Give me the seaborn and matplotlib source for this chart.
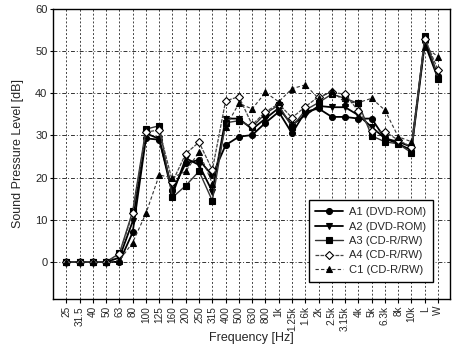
import numpy as np
import pandas as pd
import matplotlib
matplotlib.use("Agg")
import matplotlib.pyplot as plt
import seaborn as sns

freq_labels = ["25", "31.5", "40", "50", "63", "80", "100", "125", "160", "200",
               "250", "315", "400", "500", "630", "800", "1k", "1.25k", "1.6k",
               "2k", "2.5k", "3.15k", "4k", "5k", "6.3k", "8k", "10k", "L", "W"]

a1 = [0, 0, 0, 0, 0, 7.0, 29.3, 29.0, 17.0, 23.4, 24.2, 20.5, 27.7, 29.7, 30.1,
      33.0, 35.6, 30.5, 35.6, 36.4, 34.4, 34.4, 34.0, 34.0, 29.3, 28.5, 27.3, 52.5, 44.0]
a2 = [0, 0, 0, 0, 1.0, 9.6, 30.5, 29.2, 16.0, 24.6, 23.0, 16.7, 34.0, 34.0, 31.5,
      34.0, 36.5, 32.5, 34.8, 37.0, 36.7, 36.7, 34.8, 32.0, 29.3, 28.0, 26.5, 51.8, 43.5]
a3 = [0, 0, 0, 0, 2.0, 12.0, 31.5, 32.3, 15.3, 18.1, 21.5, 14.5, 33.0, 33.5, 32.0,
      35.2, 37.2, 32.0, 36.0, 37.8, 39.8, 38.8, 37.6, 29.9, 28.5, 28.0, 25.9, 53.6, 43.5]
a4 = [0, 0, 0, 0, 1.8, 11.5, 30.8, 31.3, 19.0, 25.7, 28.4, 21.8, 38.2, 39.2, 32.5,
      35.6, 37.5, 34.2, 36.8, 39.2, 40.2, 39.8, 35.8, 31.0, 30.9, 28.9, 27.3, 53.0, 45.5]
c1 = [0, 0, 0, 0, 0.3, 4.6, 11.5, 20.6, 20.0, 21.5, 26.1, 18.6, 32.0, 37.6, 36.3,
      40.2, 38.0, 41.1, 42.0, 38.8, 40.6, 37.8, 37.8, 38.8, 36.0, 29.7, 28.5, 51.0, 48.7]

series_names = ["A1 (DVD-ROM)", "A2 (DVD-ROM)", "A3 (CD-R/RW)", "A4 (CD-R/RW)", "C1 (CD-R/RW)"]
series_values = [a1, a2, a3, a4, c1]

styles = {
    "A1 (DVD-ROM)": dict(color="black", lw=1.3, ls="-", marker="o", mfc="black", ms=4.3),
    "A2 (DVD-ROM)": dict(color="black", lw=1.3, ls="-", marker="v", mfc="black", ms=4.8),
    "A3 (CD-R/RW)": dict(color="#333333", lw=1.0, ls="-", marker="s", mfc="black", ms=4.0),
    "A4 (CD-R/RW)": dict(color="#444444", lw=0.9, ls=(0, (3, 1)), marker="D", mfc="white", ms=3.8),
    "C1 (CD-R/RW)": dict(color="#333333", lw=0.8, ls=(0, (3, 2)), marker="^", mfc="black", ms=4.8),
}

sns.set_theme(style="white")
plt.rcParams["font.family"] = ["Liberation Sans", "DejaVu Sans"]

fig = plt.figure(figsize=(4.59, 3.49), dpi=100)
ax = fig.add_axes([53 / 459, 1 - 299 / 349, 397 / 459, 290 / 349])

x = np.arange(len(freq_labels))
for name, vals in zip(series_names, series_values):
    st = styles[name]
    df = pd.DataFrame({"x": x, "y": vals})
    sns.lineplot(data=df, x="x", y="y", ax=ax, color=st["color"], linewidth=st["lw"],
                 linestyle=st["ls"], marker=st["marker"], markersize=st["ms"],
                 markerfacecolor=st["mfc"], markeredgecolor="black", markeredgewidth=0.8,
                 label=name)

ax.set_xlim(-1, 28.9)
ax.set_ylim(-8.8, 60)
ax.set_xticks(x)
ax.set_xticklabels(freq_labels, rotation=90, fontsize=7.2)
ax.set_yticks([0, 10, 20, 30, 40, 50, 60])
ax.set_yticklabels(["0", "10", "20", "30", "40", "50", "60"], fontsize=8)
ax.tick_params(axis="x", direction="out", length=3, width=0.8, color="black", pad=2, bottom=True)
ax.tick_params(axis="y", direction="out", length=2, width=0.8, color="black", pad=2, left=True)

for xi in x:
    ax.axvline(xi, color="#444444", lw=0.7, ls=(0, (2, 2)), zorder=0)
for yv in [0, 10, 20, 30, 40, 50]:
    ax.axhline(yv, color="#333333", lw=0.7, ls=(0, (4, 2, 1, 2)), zorder=0)

for sp in ax.spines.values():
    sp.set_color("black")
    sp.set_linewidth(1.0)

ax.set_xlabel("Frequency [Hz]", fontsize=9)
ax.xaxis.set_label_coords(0.5, -0.115)
ax.set_ylabel("Sound Pressure Level [dB]", fontsize=9, labelpad=8)

leg = ax.legend(loc="lower right", bbox_to_anchor=(0.970, 0.041), fontsize=8,
                frameon=True, fancybox=False, edgecolor="black", framealpha=1,
                labelspacing=0.4, handlelength=2.5, borderpad=0.6, handletextpad=0.5)
leg.get_frame().set_linewidth(1.0)

fig.savefig("out.png", dpi=100)
